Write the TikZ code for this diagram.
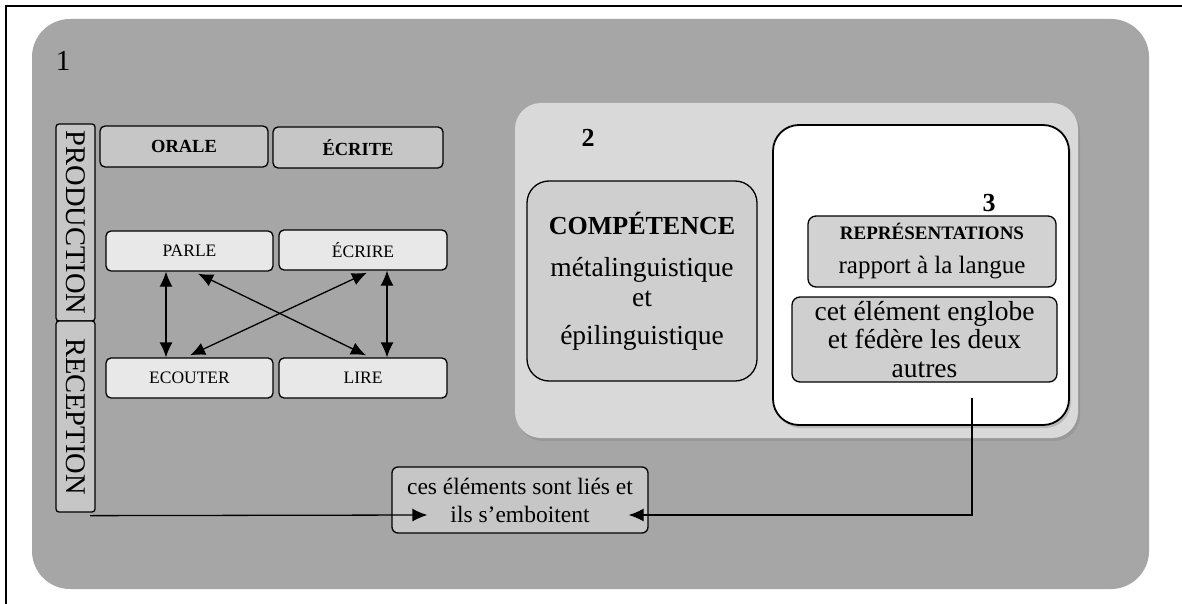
\documentclass[tikz,border=0pt]{standalone}
\usepackage{fontspec}
\setmainfont{Liberation Serif}
\usetikzlibrary{arrows.meta,shadows,calc}
\definecolor{outerg}{HTML}{A6A6A6}
\definecolor{zoneg}{HTML}{D9D9D9}
\definecolor{headg}{HTML}{C6C6C6}
\definecolor{skillg}{HTML}{E8E8E8}
\definecolor{compg}{HTML}{CFCFCF}
\definecolor{repg}{HTML}{D2D2D2}
\begin{document}
\begin{tikzpicture}[x=1pt,y=-1pt,
  box/.style={draw=black, line width=1.3pt, rounded corners=5pt, inner sep=0pt, align=center, text=black},
  headbox/.style={box, fill=headg, minimum height=41pt, font=\fontsize{18.5}{20}\selectfont\bfseries},
  skillbox/.style={box, fill=skillg, minimum width=167pt, minimum height=40pt, font=\fontsize{17.5}{20}\selectfont},
  vbox/.style={box, fill=headg, rounded corners=3pt, rotate=-90, minimum height=39pt, font=\fontsize{28.5}{30}\selectfont},
  dbl/.style={{Latex[length=15pt,width=13pt]}-{Latex[length=15pt,width=13pt]}, line width=1.3pt},
  onearrow/.style={-{Latex[length=15pt,width=13pt]}, line width=1.3pt},
  lbl/.style={inner sep=0pt, text=black}
]
\useasboundingbox (0,0) rectangle (1182,604);
% frame
\draw[line width=1.6pt] (6,604) -- (6,6) -- (1182,6);
% zone 1
\node[fill=outerg, rounded corners=38pt, minimum width=1117pt, minimum height=570pt, inner sep=0pt] (z1) at (590.5,304) {};
\node[lbl, font=\fontsize{29}{30}\selectfont] (n1) at (63,61) {1};
% zone 2
\node[fill=zoneg, rounded corners=26pt, minimum width=563pt, minimum height=335pt, inner sep=0pt,
  drop shadow={opacity=0.35, shadow xshift=2pt, shadow yshift=-3pt}] (z2) at (796.5,270.5) {};
\node[lbl, font=\fontsize{26}{28}\selectfont\bfseries] (n2) at (588,138) {2};
% zone 3
\node[draw=black, line width=1.8pt, fill=white, rounded corners=26pt, minimum width=296pt, minimum height=300pt, inner sep=0pt,
  drop shadow={opacity=0.35, shadow xshift=2pt, shadow yshift=-3pt}] (z3) at (921,275) {};
\node[lbl, font=\fontsize{26}{28}\selectfont\bfseries] (n3) at (989,203) {3};
% competence
\node[box, fill=compg, rounded corners=22pt, minimum width=230pt, minimum height=200pt, font=\fontsize{27.5}{30}\selectfont] (comp) at (642,281)
  {{\fontsize{26}{30}\selectfont\bfseries COMPÉTENCE}\\[12pt]métalinguistique\\et\\[8pt]épilinguistique};
% representations
\node[box, fill=repg, rounded corners=8pt, minimum width=248pt, minimum height=71pt, font=\fontsize{25}{34}\selectfont] (rep) at (932,251.5)
  {{\fontsize{19}{20}\selectfont\bfseries REPRÉSENTATIONS}\\rapport à la langue};
\node[box, fill=compg, rounded corners=8pt, minimum width=265pt, minimum height=85pt, font=\fontsize{27.5}{28.5}\selectfont] (englobe) at (924.5,339.5)
  {cet élément englobe\\et fédère les deux\\autres};
% liens
\node[box, fill=headg, rounded corners=6pt, minimum width=256pt, minimum height=66pt, font=\fontsize{23.5}{28}\selectfont] (ces) at (520,500)
  {ces éléments sont liés et\\ils s'emboitent};
% left column
\node[vbox, minimum width=197pt] (prod) at (75.5,222.5) {PRODUCTION};
\node[vbox, minimum width=191pt] (rec) at (75.5,416.5) {RECEPTION};
\node[headbox, minimum width=168pt] (orale) at (184,146.5) {ORALE};
\node[headbox, minimum width=170pt] (ecrite) at (358,147.5) {ÉCRITE};
\node[skillbox] (parle) at (189.5,251) {PARLE};
\node[skillbox, minimum width=168pt] (ecrire) at (363,250) {ÉCRIRE};
\node[skillbox] (ecouter) at (189.5,378) {ECOUTER};
\node[skillbox, minimum width=168pt] (lire) at (363,378) {LIRE};
% arrows between skills
\draw[dbl] ($(parle.south)+(-23.5,0)$) -- ($(ecouter.north)+(-23.5,0)$);
\draw[dbl] ($(ecrire.south)+(24,0)$) -- ($(lire.north)+(24,0)$);
\draw[dbl] ($(parle.south)+(8.5,2)$) -- ($(lire.north)+(3,-2)$);
\draw[dbl] ($(ecrire.south)+(4,2)$) -- ($(ecouter.north)+(0.5,-2)$);
% connectors to the "ces" box
\coordinate (z3out) at (972,398);
\draw[onearrow] ($(rec.east)+(14.5,3)$) -- ($(ces.west)+(36,15)$);
\draw[onearrow] (z3out) |- ($(ces.east)+(-20,15)$);
\end{tikzpicture}
\end{document}
